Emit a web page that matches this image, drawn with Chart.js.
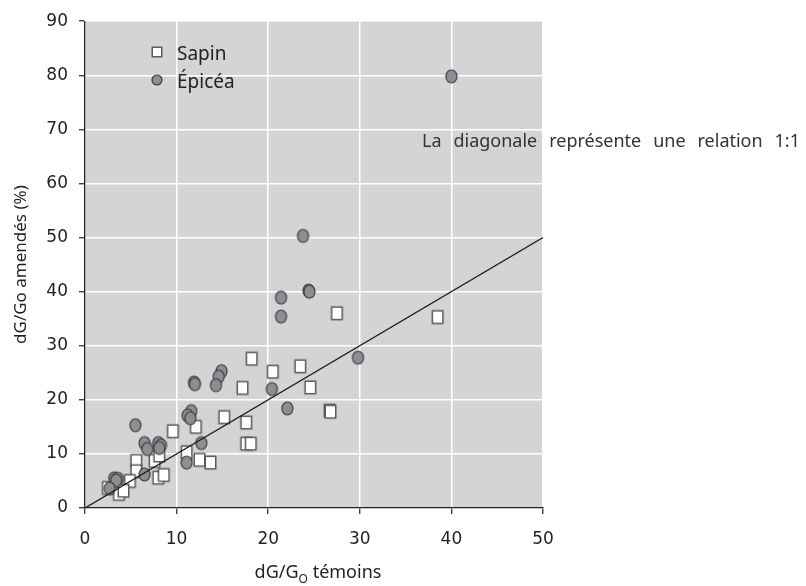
<!DOCTYPE html>
<html>
<head>
<meta charset="utf-8">
<script src="https://cdn.jsdelivr.net/npm/chart.js@4/dist/chart.umd.min.js"></script>
<style>
html,body{margin:0;padding:0;background:#fff;}
#c{display:block;}
</style>
</head>
<body>
<canvas id="c" width="806" height="586"></canvas>
<script>
// ---- Data ----
const sapinX = [38.5, 27.5, 18.2, 20.5, 23.5, 17.2, 24.6, 26.7, 26.8, 15.2, 17.6, 17.6, 18.1, 12.1, 9.6, 11.1, 12.5, 13.7, 5.6, 5.6, 7.6, 8.1, 8.0, 8.6, 4.9, 2.5, 3.7, 4.2];
const sapinY = [35.3, 36.0, 27.6, 25.2, 26.2, 22.2, 22.3, 18.0, 17.8, 16.8, 15.8, 11.9, 11.9, 15.0, 14.2, 10.3, 8.9, 8.4, 8.7, 6.8, 8.7, 9.7, 5.6, 6.1, 5.0, 3.7, 2.6, 3.2];
const epiceaX = [40.0, 23.8, 24.4, 24.5, 21.4, 21.4, 29.8, 20.4, 22.1, 14.9, 14.6, 14.3, 11.9, 12.0, 11.6, 11.2, 11.5, 12.7, 11.1, 5.5, 6.5, 6.8, 8.0, 8.3, 8.1, 6.5, 3.2, 3.6, 3.4, 2.7];
const epiceaY = [79.8, 50.3, 40.2, 40.0, 38.9, 35.4, 27.8, 22.0, 18.4, 25.3, 24.3, 22.7, 23.2, 22.9, 17.9, 17.1, 16.6, 12.0, 8.4, 15.3, 12.0, 10.9, 12.0, 11.6, 11.1, 6.2, 5.5, 5.4, 5.1, 3.6];
const diagX = [0, 50];
const diagY = [0, 50];
const xTickValues = [0, 10, 20, 30, 40, 50];
const yTickValues = [0, 10, 20, 30, 40, 50, 60, 70, 80, 90];
const seriesNames = ['Sapin', 'Épicéa'];
const yTitle = 'dG/Go amendés (%)';
const xTitleParts = ['dG/G', 'O', ' témoins'];
const noteText = 'La diagonale représente une relation 1:1';

// ---- marker images ----
function makeMarker(kind, w, h) {
  const c = document.createElement('canvas');
  c.width = w + 4; c.height = h + 4;
  const g = c.getContext('2d');
  if (kind === 'circle') {
    g.beginPath();
    g.ellipse(c.width / 2, c.height / 2, w / 2, h / 2, 0, 0, Math.PI * 2);
    g.fillStyle = '#8d8e92';
    g.fill();
    g.lineWidth = 1.2;
    g.strokeStyle = '#3c3c3c';
    g.stroke();
  } else {
    g.fillStyle = '#ffffff';
    g.fillRect(2, 2, w, h);
    g.lineWidth = 1.5;
    g.strokeStyle = '#5a5a5a';
    g.strokeRect(2.25, 2.25, w - 0.5, h - 0.5);
  }
  return c;
}
const sqImg = makeMarker('square', 11, 13);
const ciImg = makeMarker('circle', 11, 13);
const sqLeg = makeMarker('square', 10, 10);
const ciLeg = makeMarker('circle', 10, 10);

const toPts = (xs, ys) => xs.map((x, i) => ({ x: x, y: ys[i] }));

const bgPlugin = {
  id: 'bg',
  beforeDraw(chart) {
    const { ctx, chartArea: a } = chart;
    ctx.save();
    ctx.fillStyle = '#ffffff';
    ctx.fillRect(0, 0, chart.width, chart.height);
    ctx.fillStyle = '#d3d4d6';
    ctx.fillRect(a.left, a.top, a.right - a.left, a.bottom - a.top);
    ctx.restore();
  },
  afterDraw(chart) {
    const { ctx } = chart;
    ctx.save();
    // legend
    ctx.drawImage(sqLeg, 157 - sqLeg.width / 2, 52 - sqLeg.height / 2);
    ctx.drawImage(ciLeg, 157 - ciLeg.width / 2, 80 - ciLeg.height / 2);
    ctx.fillStyle = '#222';
    ctx.font = '19px "Noto Sans"';
    ctx.textBaseline = 'alphabetic';
    ctx.textAlign = 'left';
    ctx.fillText(seriesNames[0], 177, 60);
    ctx.fillText(seriesNames[1], 177, 88);
    // note
    ctx.font = '18px "Noto Sans"';
    ctx.fillStyle = '#333';
    const target = 378;
    const w0 = ctx.measureText(noteText).width;
    const spaces = (noteText.match(/ /g) || []).length;
    if ('wordSpacing' in ctx && w0 < target) {
      ctx.wordSpacing = ((target - w0) / spaces).toFixed(2) + 'px';
    }
    ctx.fillText(noteText, 422, 147);
    if ('wordSpacing' in ctx) ctx.wordSpacing = '0px';
    // x axis title with subscript
    const fBig = '18px "Noto Sans"', fSmall = '12px "Noto Sans"';
    ctx.font = fBig; const w1 = ctx.measureText(xTitleParts[0]).width;
    ctx.font = fSmall; const w2 = ctx.measureText(xTitleParts[1]).width;
    ctx.font = fBig; const w3 = ctx.measureText(xTitleParts[2]).width;
    let x = 318 - (w1 + w2 + w3) / 2;
    const base = 578;
    ctx.fillStyle = '#222';
    ctx.font = fBig; ctx.fillText(xTitleParts[0], x, base); x += w1;
    ctx.font = fSmall; ctx.fillText(xTitleParts[1], x, base + 5); x += w2;
    ctx.font = fBig; ctx.fillText(xTitleParts[2], x, base);
    ctx.restore();
  }
};

new Chart(document.getElementById('c'), {
  type: 'scatter',
  data: {
    datasets: [
      {
        type: 'line',
        label: 'diagonale',
        data: toPts(diagX, diagY),
        borderColor: '#1c1c1c',
        borderWidth: 1.3,
        pointRadius: 0,
        fill: false,
        order: 0
      },
      {
        label: seriesNames[1],
        data: toPts(epiceaX, epiceaY),
        pointStyle: ciImg,
        pointRadius: 6,
        order: 1
      },
      {
        label: seriesNames[0],
        data: toPts(sapinX, sapinY),
        pointStyle: sqImg,
        pointRadius: 6,
        order: 2
      }
    ]
  },
  options: {
    responsive: false,
    devicePixelRatio: 1,
    animation: false,
    layout: { padding: { top: 17, right: 263, left: 0, bottom: 0 } },
    plugins: { legend: { display: false }, tooltip: { enabled: false } },
    scales: {
      x: {
        type: 'linear', min: 0, max: 50,
        afterBuildTicks: s => { s.ticks = xTickValues.map(v => ({ value: v })); },
        afterFit: s => { s.height = 78; },
        ticks: { font: { family: 'DejaVu Sans', size: 17 }, color: '#222', padding: 15 },
        grid: { color: '#ffffff', lineWidth: 1.5, tickLength: 6, tickColor: '#222', tickWidth: 1.2 },
        border: { color: '#222', width: 1.3 }
      },
      y: {
        type: 'linear', min: 0, max: 90,
        afterBuildTicks: s => { s.ticks = yTickValues.map(v => ({ value: v })); },
        afterFit: s => { s.width = 85; },
        ticks: { font: { family: 'DejaVu Sans', size: 17 }, color: '#222', padding: 11 },
        grid: { color: '#ffffff', lineWidth: 1.5, tickLength: 6, tickColor: '#222', tickWidth: 1.2 },
        border: { color: '#222', width: 1.3 },
        title: { display: true, text: yTitle, font: { family: 'Noto Sans', size: 17 }, color: '#222', padding: { top: 11, bottom: 0 } }
      }
    }
  },
  plugins: [bgPlugin]
});
</script>
</body>
</html>
